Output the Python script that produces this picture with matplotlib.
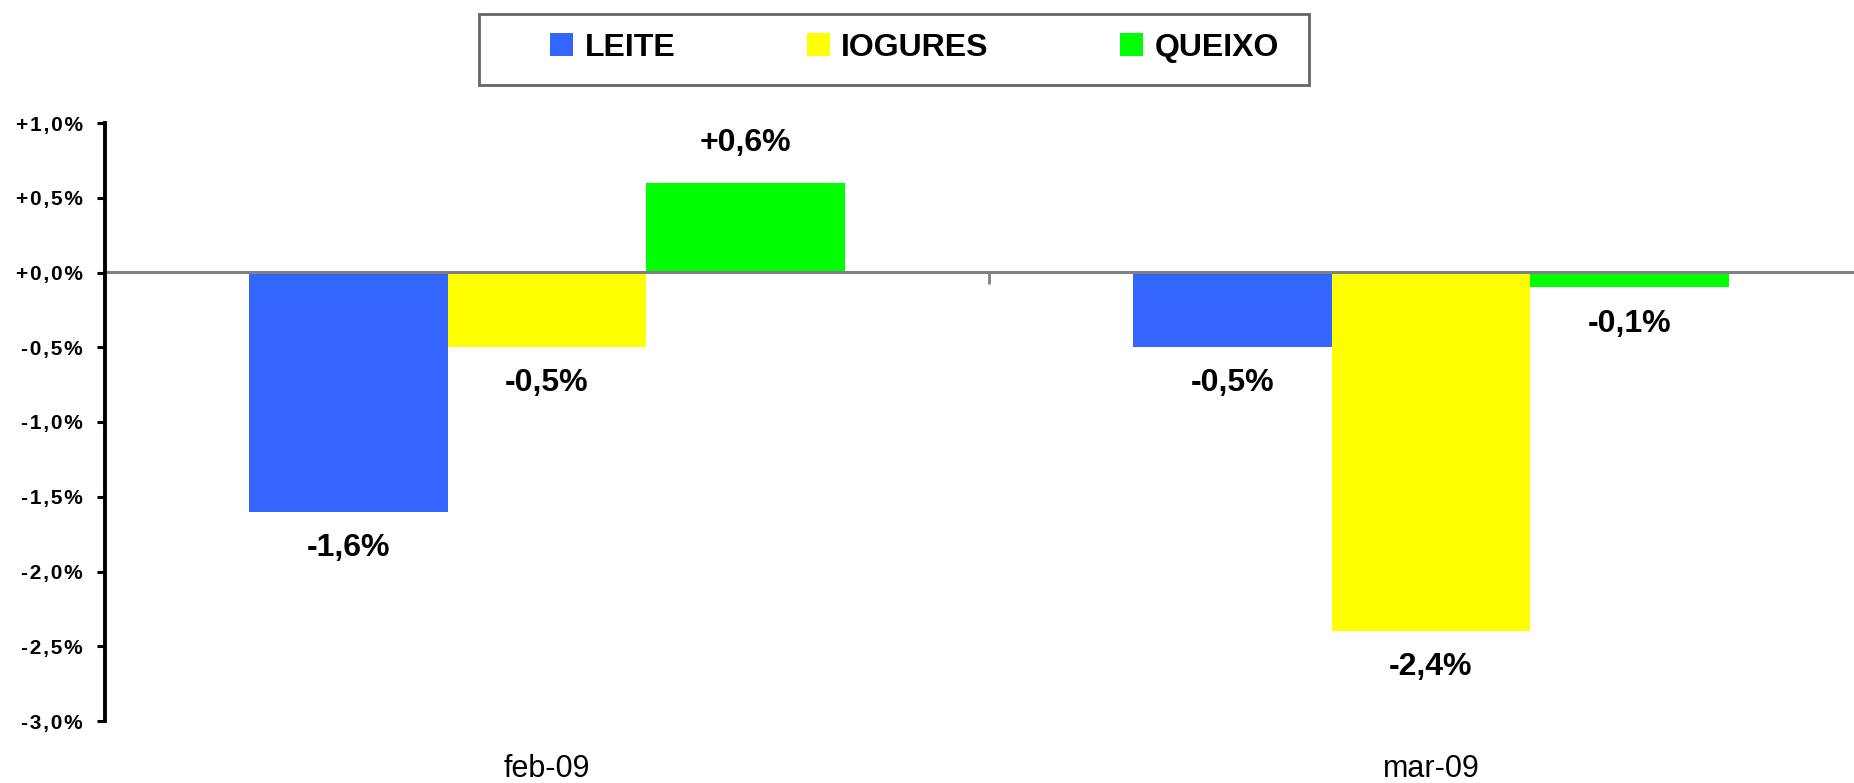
import numpy as np
import matplotlib
matplotlib.use("Agg")
import matplotlib.pyplot as plt
from matplotlib.patches import Rectangle
from matplotlib.ticker import FuncFormatter

plt.rcParams['font.family'] = ['Liberation Sans', 'DejaVu Sans']

meses = ['feb-09', 'mar-09']
produtos = ['LEITE', 'IOGURES', 'QUEIXO']
variacao = {
    'LEITE': [-1.6, -0.5],
    'IOGURES': [-0.5, -2.4],
    'QUEIXO': [0.6, -0.1],
}
cores = ['#3366FF', '#FFFF00', '#00FF00']

fig = plt.figure(figsize=(18.54, 7.83), dpi=100)
# axes run past the right edge, as in the exported sheet
ax = fig.add_axes([105 / 1854, 62 / 783, 1768 / 1854, 598 / 783])

x = np.arange(len(meses))
w = 0.225
barras = []
for i, (p, c) in enumerate(zip(produtos, cores)):
    b = ax.bar(x + (i - 1) * w, variacao[p], w, color=c, label=p, zorder=2)
    barras.append(b)
    for xi, v in zip(x + (i - 1) * w, variacao[p]):
        txt = f"{v:+.1f}%".replace('.', ',')
        off = 29 if v > 0 else -26
        ax.annotate(txt, (xi, v), xytext=(0, off), textcoords='offset points',
                    ha='center', va='center', fontsize=23, fontweight='bold')

ax.set_xlim(-0.5, 1.5)
ax.set_ylim(-3.0, 1.0)

# y axis, slight letter spacing on the labels
ax.set_yticks(np.linspace(-3.0, 1.0, 9))
def fmt(v, pos):
    s = f"{round(v, 1) + 0.0:+.1f}%".replace('.', ',')
    return '\u200a'.join(s)
ax.yaxis.set_major_formatter(FuncFormatter(fmt))
ax.tick_params(axis='y', direction='out', length=6, width=2.2, pad=10,
               labelsize=15)
for t in ax.get_yticklabels():
    t.set_fontweight('bold')
ax.spines['left'].set_linewidth(2.8)
ax.spines['left'].set_zorder(4)

# category labels at the bottom, no bottom spine
ax.set_xticks(x, meses)
ax.tick_params(axis='x', length=0, pad=24, labelsize=22)
for s in ['top', 'right', 'bottom']:
    ax.spines[s].set_visible(False)

# zero line acting as the category axis
zero = ax.secondary_xaxis(0.75)
zero.set_zorder(3)
zero.set_xticks([0.5])
zero.set_xticklabels([])
zero.tick_params(axis='x', bottom=True, top=False, labelbottom=False,
                 labeltop=False, direction='out', length=8, width=2,
                 color='#808080')
for s in zero.spines.values():
    s.set_color('#808080')
    s.set_linewidth(2.2)

# legend with its own frame
fig.patches.append(Rectangle((479 / 1854, 1 - 85 / 783), 830 / 1854, 71 / 783,
                             transform=fig.transFigure, fill=False,
                             edgecolor='#666666', linewidth=2))
fig.legend(handles=barras, loc='center left',
           bbox_to_anchor=(550 / 1854, 1 - 48 / 783), ncol=3, frameon=False,
           borderpad=0, borderaxespad=0, handlelength=0.72, handleheight=0.72,
           handletextpad=0.37, columnspacing=4.1,
           prop={'size': 23, 'weight': 'bold'})

fig.savefig('out.png', dpi=100)
